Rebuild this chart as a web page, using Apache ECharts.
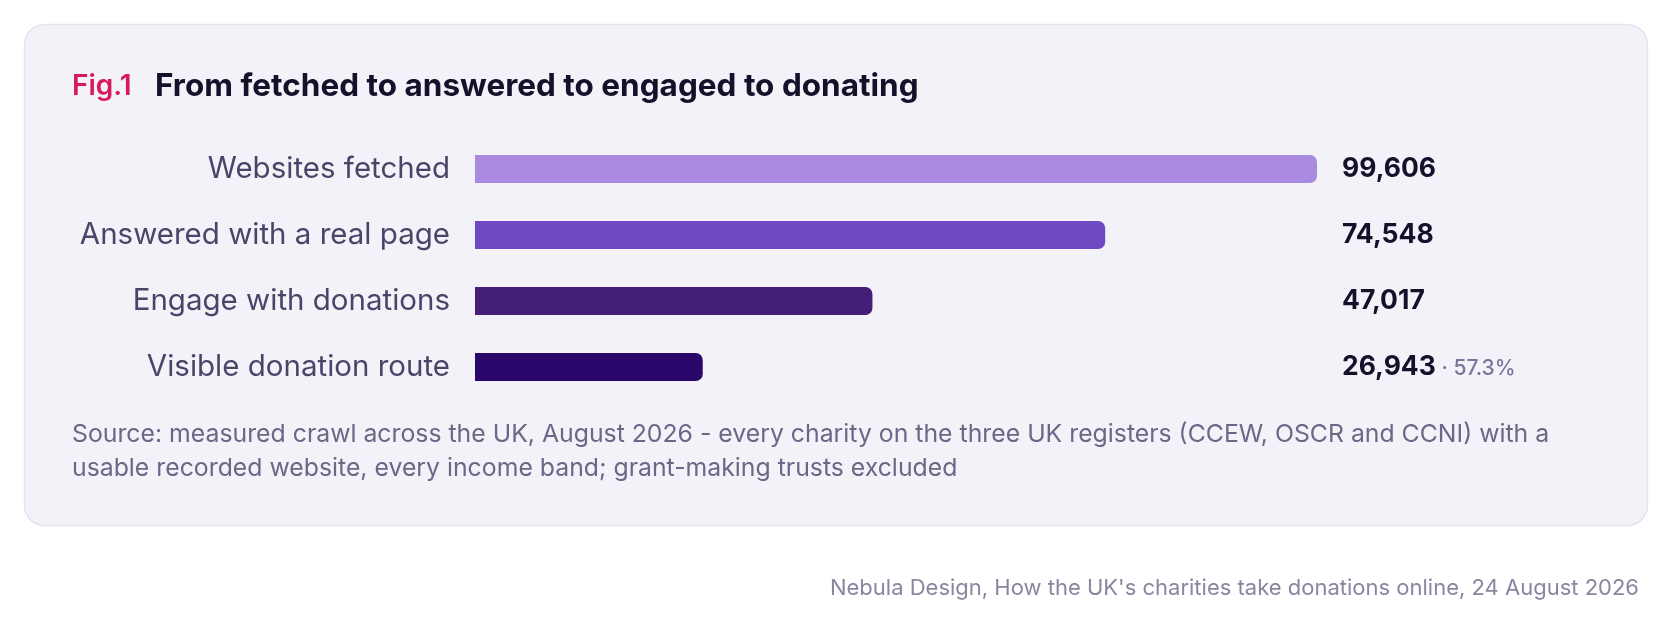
<!DOCTYPE html>
<html>
<head>
<meta charset="utf-8">
<script src="https://cdn.jsdelivr.net/npm/echarts@6/dist/echarts.min.js"></script>
<style>
  html, body { margin: 0; padding: 0; background: #ffffff; }
  #chart { width: 1672px; height: 625px; }
</style>
</head>
<body>
<div id="chart"></div>
<script>
// funnel stages, top to bottom
var stages = ['Websites fetched', 'Answered with a real page', 'Engage with donations', 'Visible donation route'];
var counts = [99606, 74548, 47017, 26943];
var barColors = ['#a98ae0', '#6f48c3', '#451f77', '#2a076b'];
// share of the engaged stage that shows a visible route
var lastShare = '57.3%';

var titleText = 'From fetched to answered to engaged to donating';
var sourceText = 'Source: measured crawl across the UK, August 2026 - every charity on the three UK registers (CCEW, OSCR and CCNI) with a\nusable recorded website, every income band; grant-making trusts excluded';
var creditText = "Nebula Design, How the UK's charities take donations online, 24 August 2026";

var FONT = 'Inter, "Noto Sans", sans-serif';

var chart = echarts.init(document.getElementById('chart'));

function fmt(n) {
  return n.toLocaleString('en-GB');
}

var option = {
  backgroundColor: '#ffffff',
  animation: false,
  graphic: [
    {
      type: 'rect', z: -10,
      shape: { x: 24.5, y: 24.5, width: 1623, height: 501, r: 20 },
      style: { fill: '#f4f2f9', stroke: '#e5e2ee', lineWidth: 1.5 }
    },
    {
      type: 'text', x: 72, y: 87,
      style: { text: 'Fig.1', font: '600 28px ' + FONT, fill: '#d81a5a', verticalAlign: 'middle' }
    },
    {
      type: 'text', x: 155, y: 87,
      style: { text: titleText, font: '700 31.5px ' + FONT, fill: '#14112b', verticalAlign: 'middle' }
    },
    {
      type: 'text', x: 72, y: 418,
      style: { text: sourceText, font: '400 24.8px ' + FONT, fill: '#6c6687', lineHeight: 34 }
    },
    {
      type: 'text', x: 1639, y: 588,
      style: { text: creditText, font: '400 22px ' + FONT, fill: '#8a86a0', align: 'right', verticalAlign: 'middle' }
    }
  ],
  grid: { left: 475, right: 355, top: 136, height: 264, containLabel: false },
  xAxis: {
    type: 'value', min: 0, max: counts[0],
    show: false
  },
  yAxis: [
    {
      type: 'category', data: stages, inverse: true,
      axisLine: { show: false }, axisTick: { show: false }, splitLine: { show: false },
      axisLabel: { margin: 25, fontFamily: FONT, fontSize: 29.5, color: '#4a4468' }
    },
    {
      type: 'category', data: stages, inverse: true, position: 'right',
      axisLine: { show: false }, axisTick: { show: false }, splitLine: { show: false },
      axisLabel: {
        margin: 25, align: 'left',
        formatter: function (v, i) {
          var s = '{v|' + fmt(counts[i]) + '}';
          if (i === counts.length - 1) s += '{p| · ' + lastShare + '}';
          return s;
        },
        rich: {
          v: { fontFamily: FONT, fontSize: 26.5, fontWeight: 700, color: '#14112b' },
          p: { fontFamily: FONT, fontSize: 21, fontWeight: 500, color: '#7a7499', padding: [4, 0, 0, 0] }
        }
      }
    }
  ],
  series: [
    {
      type: 'bar', barWidth: 28,
      data: counts.map(function (c, i) {
        return { value: c, itemStyle: { color: barColors[i] } };
      }),
      itemStyle: { borderRadius: [0, 7, 7, 0] },
      silent: true
    }
  ]
};

chart.setOption(option);
</script>
</body>
</html>
